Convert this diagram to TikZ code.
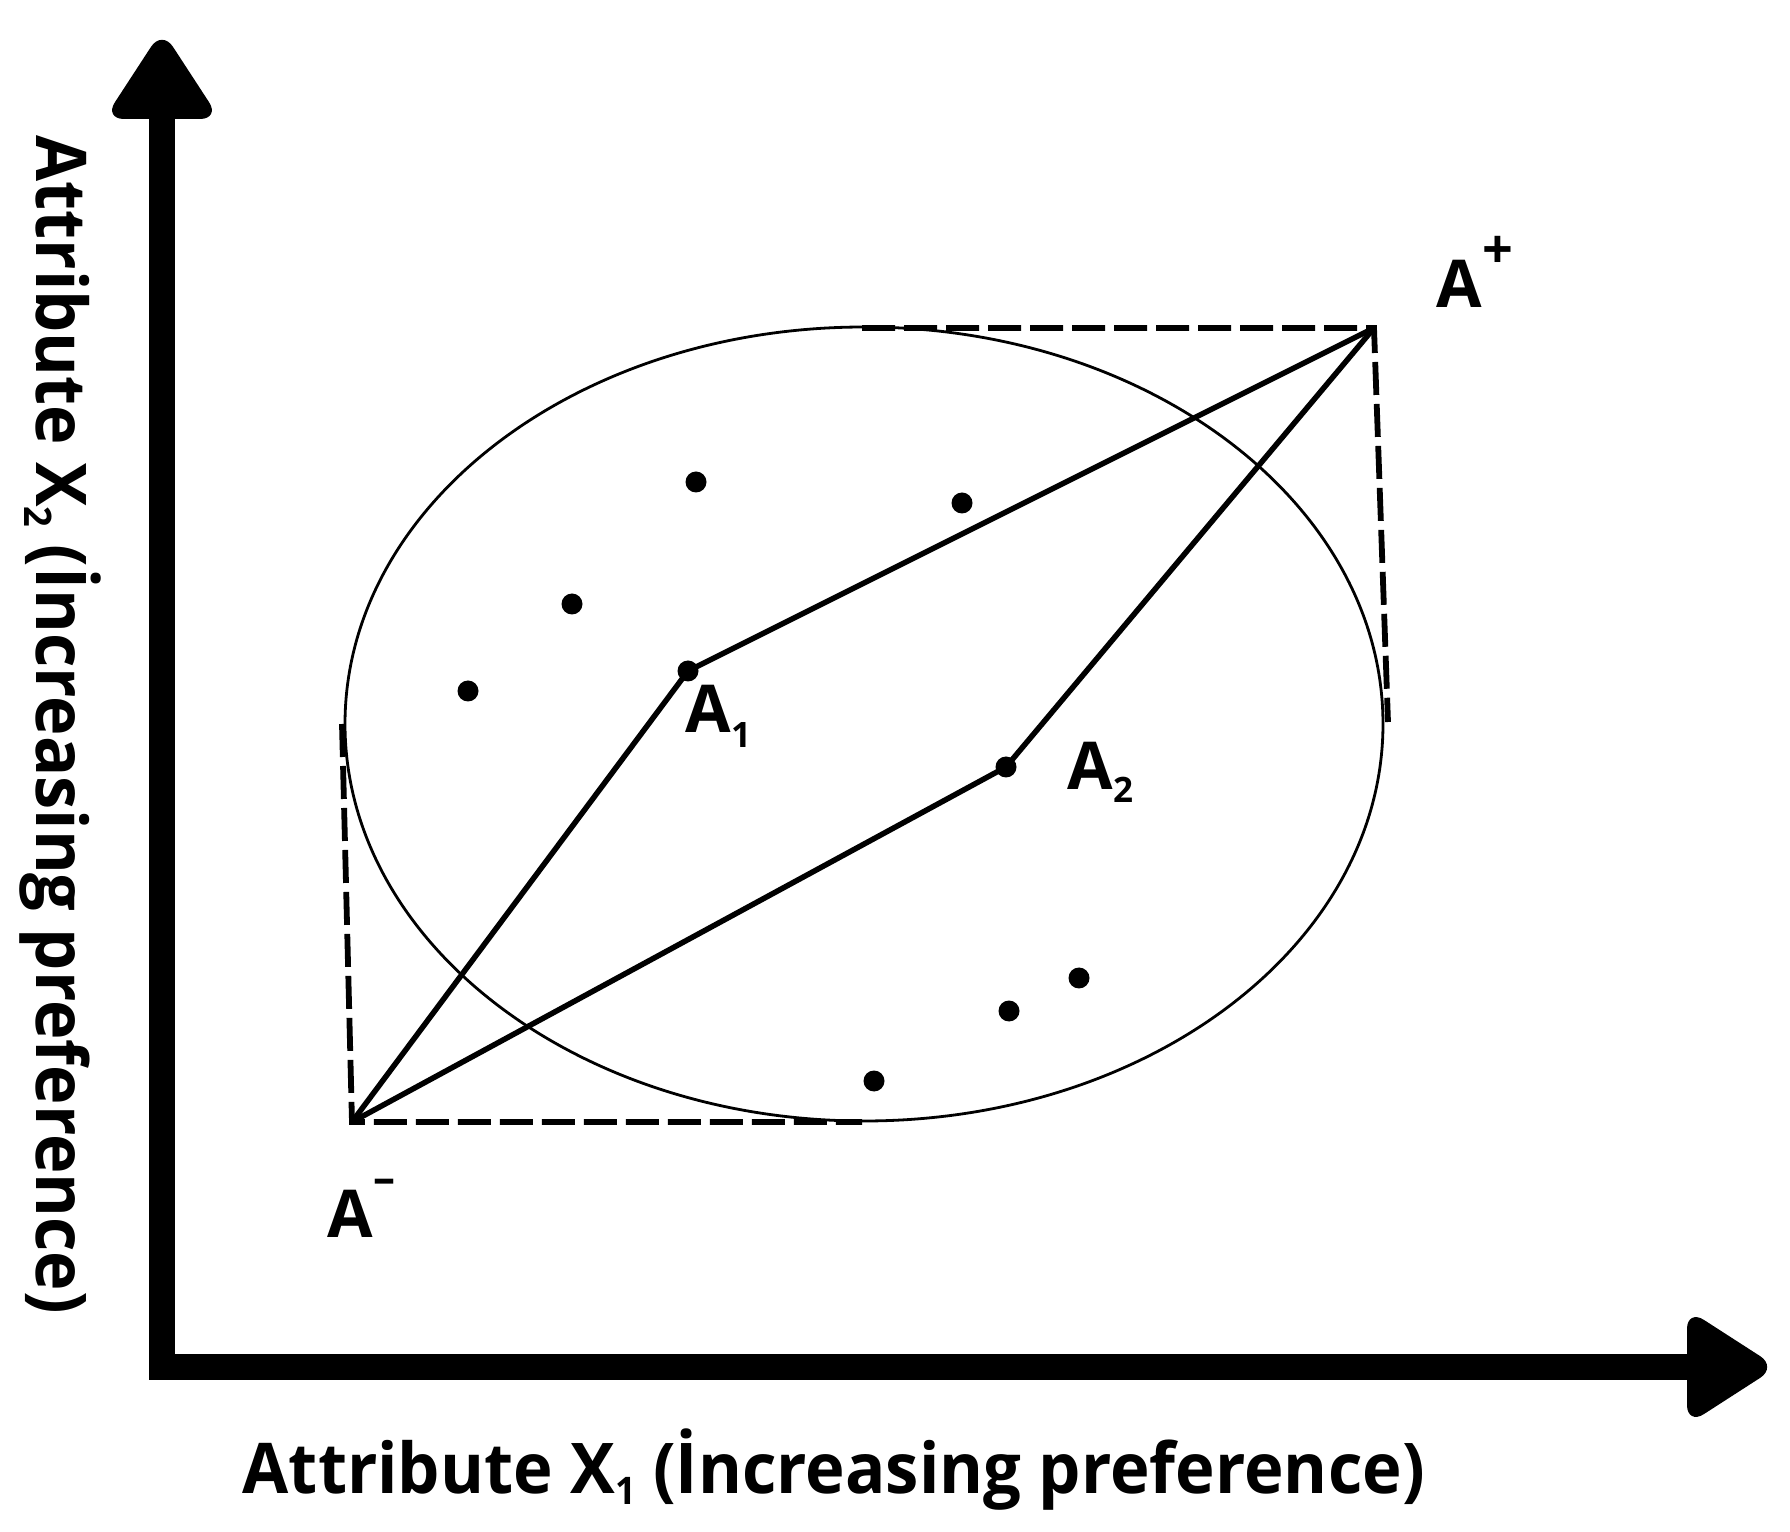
\documentclass[tikz,border=0pt]{standalone}
\usepackage{fontspec}
\setmainfont{Open Sans}
\usepackage{graphicx}
\tikzset{
  axisln/.style={line width=2.6mm, line join=miter},
  headfill/.style={fill=black, rounded corners=2mm},
  solidln/.style={line width=0.55mm},
  dashln/.style={line width=0.58mm, dash pattern=on 3.3mm off 0.9mm},
  ellln/.style={line width=0.28mm},
  dotfill/.style={fill=black},
  lbl/.style={inner sep=0pt, font=\fontsize{6.6mm}{8mm}\selectfont\bfseries},
  axlbl/.style={inner sep=0pt, font=\fontsize{7mm}{8mm}\selectfont\bfseries}
}
\begin{document}
\begin{tikzpicture}[x=0.1mm,y=-0.1mm]
\useasboundingbox (0,0) rectangle (1790,1532);
% key points
\coordinate (Ap) at (1374,328);
\coordinate (Am) at (352,1122);
\coordinate (A1) at (688,671);
\coordinate (A2) at (1006,767);
\coordinate (C) at (864,724);
\coordinate (Et) at (862,328);
\coordinate (Eb) at (862,1122);
\coordinate (El) at (342,724);
\coordinate (Er) at (1388,722);
\coordinate (p1) at (696,482);
\coordinate (p2) at (962,503);
\coordinate (p3) at (572,604);
\coordinate (p4) at (468,691);
\coordinate (p5) at (1079,978);
\coordinate (p6) at (1009,1011);
\coordinate (p7) at (874,1081);
% axes
\coordinate (Ytop) at (162,110);
\coordinate (O) at (162,1367);
\coordinate (Xend) at (1695,1367);
\draw[axisln] (Ytop) -- (O) -- (Xend);
\fill[headfill] (162,119) -- (220,119) -- (162,30) -- (104,119) -- cycle;
\fill[headfill] (1687,1367) -- (1687,1425) -- (1777,1367) -- (1687,1309) -- cycle;
% ellipse
\draw[ellln] (C) ellipse [x radius=51.9mm, y radius=39.7mm];
% dashed box edges
\draw[dashln] (Et) -- (Ap) -- (Er);
\draw[dashln] (El) -- (Am) -- (Eb);
% solid connectors
\draw[solidln] (Am) -- (A1) -- (Ap);
\draw[solidln] (Am) -- (A2) -- (Ap);
% dots
\foreach \p in {A1,A2,p1,p2,p3,p4,p5,p6,p7} \fill[dotfill] (\p) circle [radius=1.05mm];
% labels
\node[lbl, anchor=base west] (LAp) at (1436,308) {A\raisebox{0.6em}{\fontsize{5.4mm}{6mm}\selectfont +}};
\node[lbl, anchor=base west] (LAm) at (327,1237) {A\raisebox{0.66em}{\fontsize{4.4mm}{5mm}\selectfont –}};
\node[lbl, anchor=base west] (LA1) at (685,733) {A\raisebox{-1.5mm}{\fontsize{3.5mm}{4mm}\selectfont 1}};
\node[lbl, anchor=base west] (LA2) at (1067,790) {A\raisebox{-1.3mm}{\fontsize{3.5mm}{4mm}\selectfont 2}};
\node[axlbl, anchor=base west] (Lx) at (242,1493) {\resizebox{118.2mm}{\height}{Attribute X\raisebox{-0.17em}{\fontsize{3.8mm}{4mm}\selectfont 1} (İncreasing preference)}};
\node[axlbl, anchor=base west, rotate=-90] (Ly) at (36,135) {\resizebox{117.8mm}{\height}{Attribute X\raisebox{-0.17em}{\fontsize{3.8mm}{4mm}\selectfont 2} (İncreasing preference)}};
\end{tikzpicture}
\end{document}
